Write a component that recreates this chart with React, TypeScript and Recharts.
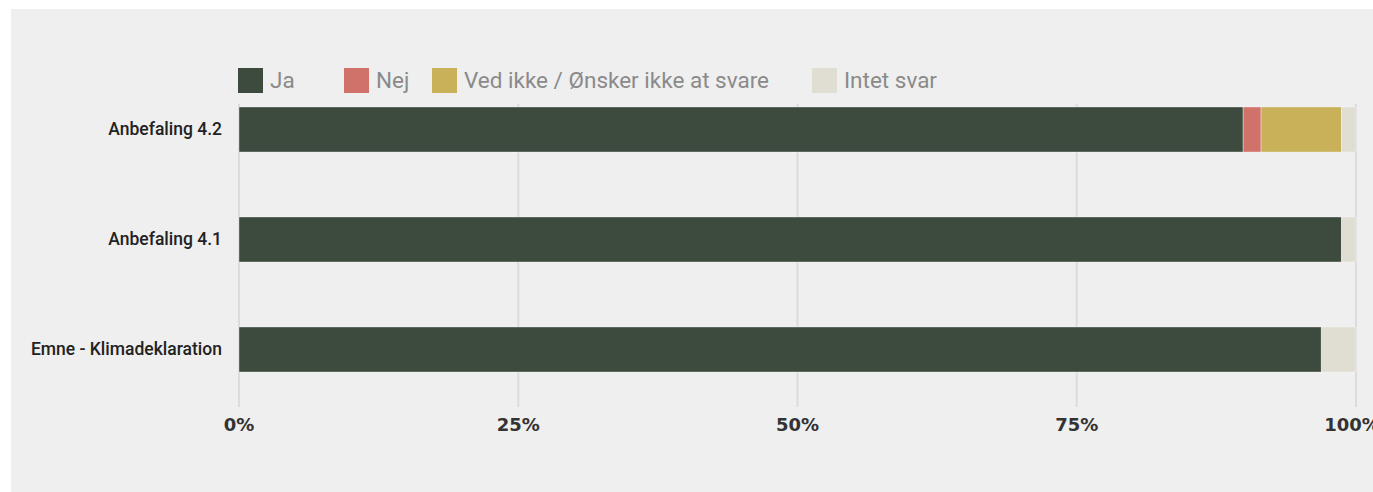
import React from "react";
import { Bar, BarChart, CartesianGrid, Legend, XAxis, YAxis } from "recharts";

// svar i procent pr. anbefaling
const categories = ["Anbefaling 4.2", "Anbefaling 4.1", "Emne - Klimadeklaration"];
const ja = [89.9, 98.7, 96.9];
const nej = [1.6, 0, 0];
const vedIkke = [7.2, 0, 0];
const intetSvar = [1.3, 1.3, 3.1];
const xTicks = [0, 25, 50, 75, 100];

const series = [
  { key: "ja", name: "Ja", color: "#3d4b3e" },
  { key: "nej", name: "Nej", color: "#d0726a" },
  { key: "vedIkke", name: "Ved ikke / Ønsker ikke at svare", color: "#c8b159" },
  { key: "intet", name: "Intet svar", color: "#e0ddd2" },
];

const data = categories.map((name, i) => ({
  name,
  ja: ja[i],
  nej: nej[i],
  vedIkke: vedIkke[i],
  intet: intetSvar[i],
}));

const legendWidths = [106, 88, 380, 200];

function LegendContent() {
  return (
    <div style={{ display: "flex", alignItems: "center" }}>
      {series.map((s, i) => (
        <div key={s.key} style={{ display: "flex", alignItems: "center", width: legendWidths[i] }}>
          <span style={{ width: 25, height: 25, background: s.color, display: "inline-block", marginRight: 7, flexShrink: 0 }} />
          <span style={{ fontFamily: "Roboto, sans-serif", fontSize: 22.5, color: "#8a8a8a", whiteSpace: "nowrap" }}>
            {s.name}
          </span>
        </div>
      ))}
    </div>
  );
}

export default function App() {
  return (
    <div style={{ position: "fixed", left: 11, top: 9, width: 1362, height: 483, background: "#efefef" }}>
      <BarChart
        layout="vertical"
        width={1362}
        height={483}
        data={data}
        margin={{ top: 65, right: 17, bottom: 58, left: 0 }}
        barSize={45}
      >
        <CartesianGrid horizontal={false} stroke="#dcdcdc" strokeWidth={2} y={95} height={303} />
        <XAxis
          type="number"
          domain={[0, 100]}
          ticks={xTicks}
          tickFormatter={(v) => `${v}%`}
          axisLine={false}
          tickLine={false}
          tickMargin={8}
          tick={{ fill: "#333", fontSize: 18, fontFamily: "DejaVu Sans, sans-serif", fontWeight: 600 }}
        />
        <YAxis
          type="category"
          dataKey="name"
          width={228}
          axisLine={false}
          tickLine={false}
          tickMargin={11}
          tick={{ fill: "#222", fontSize: 17.5, fontFamily: "Roboto, sans-serif", fontWeight: 500 }}
        />
        <Legend
          verticalAlign="middle"
          content={<LegendContent />}
          wrapperStyle={{ top: 58, left: 227, width: "auto" }}
        />
        {series.map((s) => (
          <Bar
            key={s.key}
            dataKey={s.key}
            name={s.name}
            stackId="a"
            fill={s.color}
            stroke="#ffffff"
            strokeOpacity={0.35}
            strokeWidth={1}
            isAnimationActive={false}
          />
        ))}
      </BarChart>
    </div>
  );
}
